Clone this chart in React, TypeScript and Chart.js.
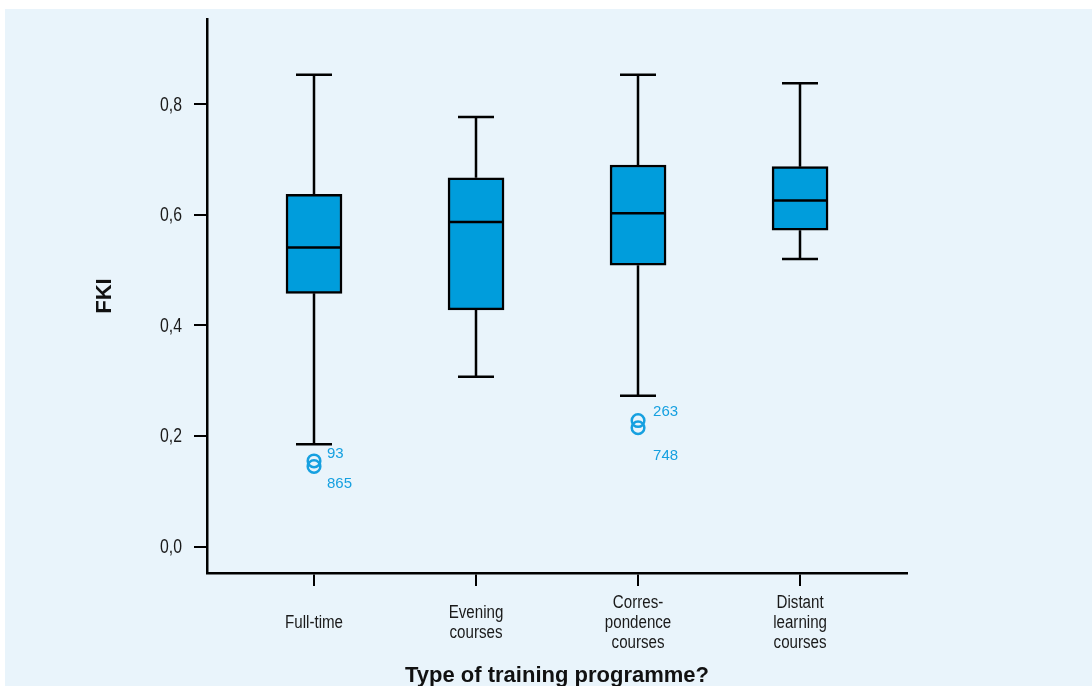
import React, { useEffect, useRef } from 'react';
import { Chart, registerables } from 'chart.js';

Chart.register(...registerables);

// ---- Data ----
const categories: string[][] = [
  ['Full-time'],
  ['Evening', 'courses'],
  ['Corres-', 'pondence', 'courses'],
  ['Distant', 'learning', 'courses'],
];
const whiskerLow = [0.185, 0.307, 0.273, 0.52];
const q1 = [0.458, 0.428, 0.509, 0.572];
const median = [0.541, 0.587, 0.603, 0.626];
const q3 = [0.637, 0.667, 0.69, 0.687];
const whiskerHigh = [0.853, 0.777, 0.853, 0.838];
const outlierCategory = [1, 1, 3, 3];
const outlierValues = [0.155, 0.145, 0.228, 0.215];
const outlierLabels = ['93', '865', '263', '748'];
const yTickValues = [0, 0.2, 0.4, 0.6, 0.8];
const yTitle = 'FKI';
const xTitle = 'Type of training programme?';

// ---- Style ----
const BOX_FILL = '#009ddc';
const OUTLIER_COLOR = '#16a0e0';
const LINE_COLOR = '#000000';
const TICK_COLOR = '#1a1a1a';
const SANS = '"Liberation Sans", Arial, sans-serif';
const labelOffsets: [number, number][] = [
  [13, -7],
  [13, 17],
  [15, -9],
  [15, 28],
];

function drawCondensed(
  ctx: CanvasRenderingContext2D,
  text: string,
  x: number,
  y: number,
  align: CanvasTextAlign,
  sx: number
) {
  ctx.save();
  ctx.translate(x, y);
  ctx.scale(sx, 1);
  ctx.textAlign = align;
  ctx.fillText(text, 0, 0);
  ctx.restore();
}

const boxPlugin = {
  id: 'boxExtras',
  afterDatasetsDraw(chart: any) {
    const { ctx, scales } = chart;
    const xs = scales.x;
    const ys = scales.y;
    ctx.save();
    ctx.strokeStyle = LINE_COLOR;
    ctx.lineWidth = 2.5;
    ctx.lineCap = 'butt';
    const half = 28;
    const cap = 18;
    for (let i = 0; i < categories.length; i++) {
      const cx = Math.round(xs.getPixelForValue(i + 1));
      const pLow = ys.getPixelForValue(whiskerLow[i]);
      const pQ1 = ys.getPixelForValue(q1[i]);
      const pMed = ys.getPixelForValue(median[i]);
      const pQ3 = ys.getPixelForValue(q3[i]);
      const pHigh = ys.getPixelForValue(whiskerHigh[i]);
      ctx.beginPath();
      ctx.moveTo(cx, pQ3);
      ctx.lineTo(cx, pHigh);
      ctx.moveTo(cx - cap, pHigh);
      ctx.lineTo(cx + cap, pHigh);
      ctx.moveTo(cx, pQ1);
      ctx.lineTo(cx, pLow);
      ctx.moveTo(cx - cap, pLow);
      ctx.lineTo(cx + cap, pLow);
      ctx.moveTo(cx - half, pMed);
      ctx.lineTo(cx + half, pMed);
      ctx.stroke();
    }
    // outlier labels
    ctx.fillStyle = OUTLIER_COLOR;
    ctx.font = '15px ' + SANS;
    ctx.textAlign = 'left';
    ctx.textBaseline = 'middle';
    for (let i = 0; i < outlierLabels.length; i++) {
      const px = xs.getPixelForValue(outlierCategory[i]);
      const py = ys.getPixelForValue(outlierValues[i]);
      ctx.fillText(outlierLabels[i], px + labelOffsets[i][0], py + labelOffsets[i][1]);
    }
    ctx.restore();
  },
  afterDraw(chart: any) {
    const { ctx, chartArea, scales } = chart;
    const xs = scales.x;
    const ys = scales.y;
    ctx.save();
    ctx.fillStyle = TICK_COLOR;
    ctx.textBaseline = 'middle';
    // x tick labels (condensed)
    ctx.font = '18px ' + SANS;
    const lineH = 20;
    const xCenterY = xs.top + 50;
    for (let i = 0; i < categories.length; i++) {
      const lines = categories[i];
      const px = xs.getPixelForValue(i + 1);
      const y0 = xCenterY - ((lines.length - 1) * lineH) / 2;
      lines.forEach((ln, j) => drawCondensed(ctx, ln, px, y0 + j * lineH, 'center', 0.84));
    }
    // y tick labels (condensed)
    ctx.font = '19.5px ' + SANS;
    yTickValues.forEach((v) => {
      const py = ys.getPixelForValue(v);
      drawCondensed(ctx, v.toFixed(1).replace('.', ','), ys.right - 25, py + 1, 'right', 0.81);
    });
    // x axis title
    ctx.fillStyle = '#111111';
    ctx.font = 'bold 22px ' + SANS;
    ctx.textAlign = 'center';
    ctx.textBaseline = 'alphabetic';
    ctx.fillText(xTitle, (chartArea.left + chartArea.right) / 2, xs.bottom - 4);
    ctx.restore();
  },
};

const zeroPadding = (scale: any) => {
  scale.paddingTop = 0;
  scale.paddingBottom = 0;
  scale.paddingLeft = 0;
  scale.paddingRight = 0;
};

export default function App() {
  const canvasRef = useRef<HTMLCanvasElement | null>(null);

  useEffect(() => {
    const canvas = canvasRef.current;
    if (!canvas) return;
    const boxData = categories.map((_, i) => ({ x: i + 1, y: [q1[i], q3[i]] }));
    const outlierData = outlierValues.map((v, i) => ({ x: outlierCategory[i], y: v }));

    const chart = new Chart(canvas, {
      type: 'bar',
      data: {
        datasets: [
          {
            type: 'bar',
            data: boxData as any,
            backgroundColor: BOX_FILL,
            borderColor: LINE_COLOR,
            borderWidth: 2.5,
            borderSkipped: false,
            barThickness: 56,
            grouped: false,
          } as any,
          {
            type: 'scatter',
            data: outlierData as any,
            pointRadius: 6.3,
            pointStyle: 'circle',
            borderColor: OUTLIER_COLOR,
            backgroundColor: 'rgba(0,0,0,0)',
            borderWidth: 2.5,
          } as any,
        ],
      },
      options: {
        responsive: false,
        animation: false,
        events: [],
        layout: { padding: { left: 0, top: 10, right: 185, bottom: 0 } },
        plugins: {
          legend: { display: false },
          tooltip: { enabled: false },
        },
        scales: {
          x: {
            type: 'linear',
            offset: false,
            min: 0.3395,
            max: 4.66,
            afterBuildTicks: (scale: any) => {
              scale.ticks = categories.map((_, i) => ({ value: i + 1 }));
            },
            afterFit: (scale: any) => {
              scale.height = 113;
              zeroPadding(scale);
            },
            grid: {
              offset: false,
              display: true,
              drawOnChartArea: false,
              drawTicks: true,
              tickLength: 13,
              lineWidth: 2,
              color: LINE_COLOR,
            },
            border: { display: true, color: LINE_COLOR, width: 2.5 },
            ticks: { display: false },
            title: { display: false },
          } as any,
          y: {
            type: 'linear',
            min: -0.0476,
            max: 0.954,
            afterBuildTicks: (scale: any) => {
              scale.ticks = yTickValues.map((v) => ({ value: v }));
            },
            afterFit: (scale: any) => {
              scale.width = 202;
              zeroPadding(scale);
            },
            grid: {
              display: true,
              drawOnChartArea: false,
              drawTicks: true,
              tickLength: 13,
              lineWidth: 2,
              color: LINE_COLOR,
            },
            border: { display: true, color: LINE_COLOR, width: 2.5 },
            ticks: { display: false },
            title: {
              display: true,
              text: yTitle,
              color: '#111111',
              font: { family: SANS, size: 22, weight: 'bold' },
              padding: { top: 86.8, bottom: 0 },
            },
          } as any,
        },
      },
      plugins: [boxPlugin],
    });

    return () => {
      chart.destroy();
    };
  }, []);

  return (
    <div
      style={{
        position: 'fixed',
        left: 5,
        top: 9,
        width: 1087,
        height: 677,
        background: '#e9f4fb',
      }}
    >
      <canvas ref={canvasRef} width={1087} height={677} style={{ display: 'block', width: 1087, height: 677 }} />
    </div>
  );
}
